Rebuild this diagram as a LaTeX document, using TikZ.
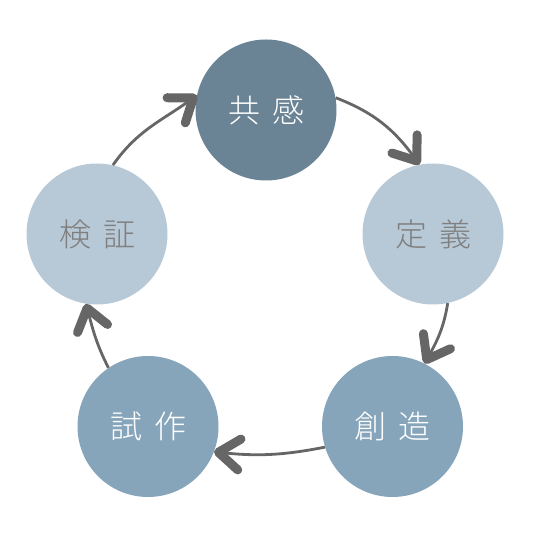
\documentclass[tikz,border=0pt]{standalone}
\usepackage{fontspec}
\newfontfamily\jp{Noto Sans CJK JP Light}
\usetikzlibrary{arrows.meta}
\definecolor{cdark}{HTML}{6A8395}
\definecolor{cmid}{HTML}{86A5BB}
\definecolor{clight}{HTML}{B7C8D6}
\definecolor{ctext}{HTML}{7F7F7F}
\definecolor{carrow}{HTML}{666666}
\tikzset{
  stage/.style={circle, minimum size=141pt, inner sep=0pt, draw=none,
    font=\jp\fontsize{32}{32}\selectfont},
  darkstage/.style={stage, fill=cdark, text=white},
  midstage/.style={stage, fill=cmid, text=white},
  lightstage/.style={stage, fill=clight, text=ctext},
  flow/.style={draw=carrow, line width=2.8pt,
    -{Straight Barb[length=21pt, width=31pt, line width=9pt, round]}}
}
\newcommand{\gap}{\hspace{12pt}}
\begin{document}
\begin{tikzpicture}[x=1pt,y=1pt]
\useasboundingbox (0,0) rectangle (535,535);
\node[darkstage]  (kk) at (266,425)   {共\gap 感};
\node[lightstage] (td) at (433,301)   {定\gap 義};
\node[midstage]   (sz) at (392.5,108.5) {創\gap 造};
\node[midstage]   (sk) at (148,108.5) {試\gap 作};
\node[lightstage] (kz) at (97,301)    {検\gap 証};
\draw[flow] (kz.77)  to[out=55, in=216]  (kk.168);
\draw[flow] (kk.10)  to[out=-21, in=126] (td.101);
\draw[flow] (td.-78) to[out=-99, in=61]  (sz.63);
\draw[flow] (sz.197) to[out=191, in=-6]  (sk.-21);
\draw[flow] (sk.124) to[out=117, in=-75] (kz.-99);
\end{tikzpicture}
\end{document}
